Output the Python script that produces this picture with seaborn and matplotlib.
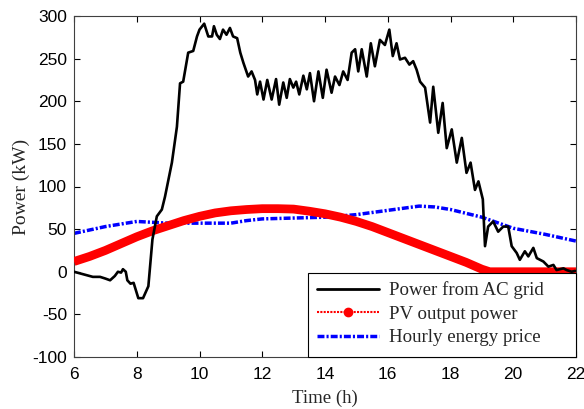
import matplotlib
matplotlib.use("Agg")
import matplotlib.pyplot as plt
from matplotlib.lines import Line2D
from matplotlib.patches import Rectangle
import seaborn as sns
import pandas as pd

# ---- data ----
grid_t = [6.0, 6.2, 6.4, 6.6, 6.83, 7.0, 7.15, 7.3, 7.4, 7.5, 7.56, 7.65, 7.7, 7.8, 7.9, 8.0,
          8.05, 8.2, 8.37, 8.5, 8.64, 8.8, 8.9, 9.12, 9.28, 9.38, 9.48, 9.64, 9.8, 9.92, 10.0,
          10.15, 10.28, 10.4, 10.46, 10.55, 10.65, 10.75, 10.86, 10.97, 11.07, 11.2, 11.3, 11.4,
          11.55, 11.66, 11.77, 11.84, 11.93, 12.04, 12.16, 12.3, 12.44, 12.54, 12.67, 12.78,
          12.88, 12.99, 13.08, 13.18, 13.31, 13.42, 13.52, 13.65, 13.79, 13.93, 14.05, 14.21,
          14.32, 14.46, 14.58, 14.72, 14.85, 14.96, 15.06, 15.17, 15.33, 15.46, 15.59, 15.75,
          15.91, 16.05, 16.16, 16.28, 16.39, 16.55, 16.69, 16.81, 16.92, 17.03, 17.19, 17.35,
          17.45, 17.61, 17.75, 17.88, 18.04, 18.2, 18.36, 18.51, 18.64, 18.78, 18.89, 19.03,
          19.1, 19.2, 19.36, 19.52, 19.68, 19.84, 19.95, 20.11, 20.21, 20.37, 20.48, 20.64,
          20.75, 20.96, 21.12, 21.28, 21.38, 21.6, 21.7, 21.86, 21.97]
grid_p = [0, -2, -4, -6, -6, -8, -10, -5, 0, -1, 3, 0, -10, -14, -13, -25,
          -31, -31, -17, 38, 65, 73, 88, 128, 170, 221, 223, 257, 259, 276, 284,
          291, 276, 276, 288, 278, 273, 284, 278, 286, 276, 274, 257, 245,
          229, 235, 225, 208, 223, 202, 225, 202, 226, 196, 222, 204,
          226, 216, 223, 208, 230, 214, 233, 200, 235, 204, 237, 210,
          229, 219, 235, 225, 257, 261, 235, 261, 229, 268, 241, 272,
          266, 284, 253, 268, 249, 251, 243, 247, 237, 223, 216, 175,
          217, 163, 198, 145, 167, 128, 157, 116, 128, 96, 106, 85,
          30, 53, 59, 47, 53, 53, 30, 22, 14, 24, 18, 28,
          16, 12, 6, 8, 2, 4, 2, 0, 1]

pv_t = [6.0, 6.5, 7.0, 7.5, 8.0, 8.5, 9.0, 9.5, 10.0, 10.5, 11.0, 11.5, 12.0, 12.5, 13.0,
        13.5, 14.0, 14.5, 15.0, 15.5, 16.0, 16.5, 17.0, 17.5, 18.0, 18.5, 19.0, 19.25,
        20.0, 21.0, 22.0]
pv_p = [12, 18, 25, 33, 41, 48, 54, 60, 65, 69, 71.5, 73, 74, 74, 73.5,
        71, 68, 64, 59, 53, 46, 39, 32, 25, 18, 11, 3, 0,
        0, 0, 0]

price_t = [6, 7, 8, 8.5, 9, 10, 11, 11.5, 12, 13, 14, 15, 16, 17, 17.5, 18, 19, 20, 21, 22]
price_p = [45, 53, 59, 58, 57, 57, 57, 60, 62, 63, 64, 67, 72, 77, 76, 73, 64, 51, 44, 36]

x_ticks = [6, 8, 10, 12, 14, 16, 18, 20, 22]
y_ticks = [-100, -50, 0, 50, 100, 150, 200, 250, 300]
labels = ["Power from AC grid", "PV output power", "Hourly energy price"]

# ---- plotting ----
sns.set_style("ticks")
plt.rcParams['font.family'] = ['Liberation Sans', 'DejaVu Sans']
plt.rcParams['axes.unicode_minus'] = False

W, H = 584, 409
fig = plt.figure(figsize=(W / 100, H / 100), dpi=100)
ax = fig.add_axes([74 / W, 1 - 357 / H, (576 - 74) / W, (357 - 16) / H])

df_grid = pd.DataFrame({"t": grid_t, "p": grid_p})
df_pv = pd.DataFrame({"t": pv_t, "p": pv_p})
df_price = pd.DataFrame({"t": price_t, "p": price_p})

dashdot = (0, (2.0, 0.6, 0.6, 0.6))
sns.lineplot(data=df_price, x="t", y="p", ax=ax, color="#0000ff", lw=2.5,
             linestyle=dashdot, zorder=2)
sns.lineplot(data=df_pv, x="t", y="p", ax=ax, color="#ff0000", lw=6.3, zorder=3,
             solid_capstyle="butt")
sns.lineplot(data=df_grid, x="t", y="p", ax=ax, color="black", lw=1.9, zorder=4)

ax.set_xlim(6, 22)
ax.set_ylim(-100, 300)
ax.set_xticks(x_ticks)
ax.set_yticks(y_ticks)
ax.tick_params(direction="in", top=True, right=True, length=4, width=0.8,
               labelsize=12.5, colors="black")
ax.tick_params(axis="x", pad=7)
ax.tick_params(axis="y", pad=5)
for s in ax.spines.values():
    s.set_linewidth(0.8)
    s.set_color("#404040")

serif = ['Liberation Serif', 'DejaVu Serif']
ax.set_xlabel("Time (h)", family=serif, fontsize=13.5, labelpad=6)
ax.set_ylabel("Power (kW)", family=serif, fontsize=14, labelpad=2)

# legend frame (MATLAB-like, extra right padding)
x0, y0, x1, y1 = 308, 273, 576, 357
frame = Rectangle((x0 / W, 1 - y1 / H), (x1 - x0) / W, (y1 - y0) / H,
                  transform=fig.transFigure, facecolor="white", edgecolor="black",
                  lw=0.8, zorder=9)
fig.patches.append(frame)

handles = [
    Line2D([0, 1], [0, 0], color="black", lw=2),
    Line2D([0, 0.5, 1], [0, 0, 0], color="#ff0000", lw=1.5, linestyle=(0, (1, 0.6)),
           marker="o", markersize=6, markevery=[1]),
    Line2D([0, 1], [0, 0], color="#0000ff", lw=2.5, linestyle=dashdot),
]
leg = fig.legend(handles, labels, loc="upper left",
                 bbox_to_anchor=(x0 / W, 1 - y0 / H), bbox_transform=fig.transFigure,
                 borderaxespad=0, frameon=False,
                 prop={"family": serif, "size": 13.6},
                 handlelength=3.3, handletextpad=0.55, labelspacing=0.33,
                 borderpad=0.45)
leg.set_zorder(10)

fig.savefig("out.png", dpi=100)
